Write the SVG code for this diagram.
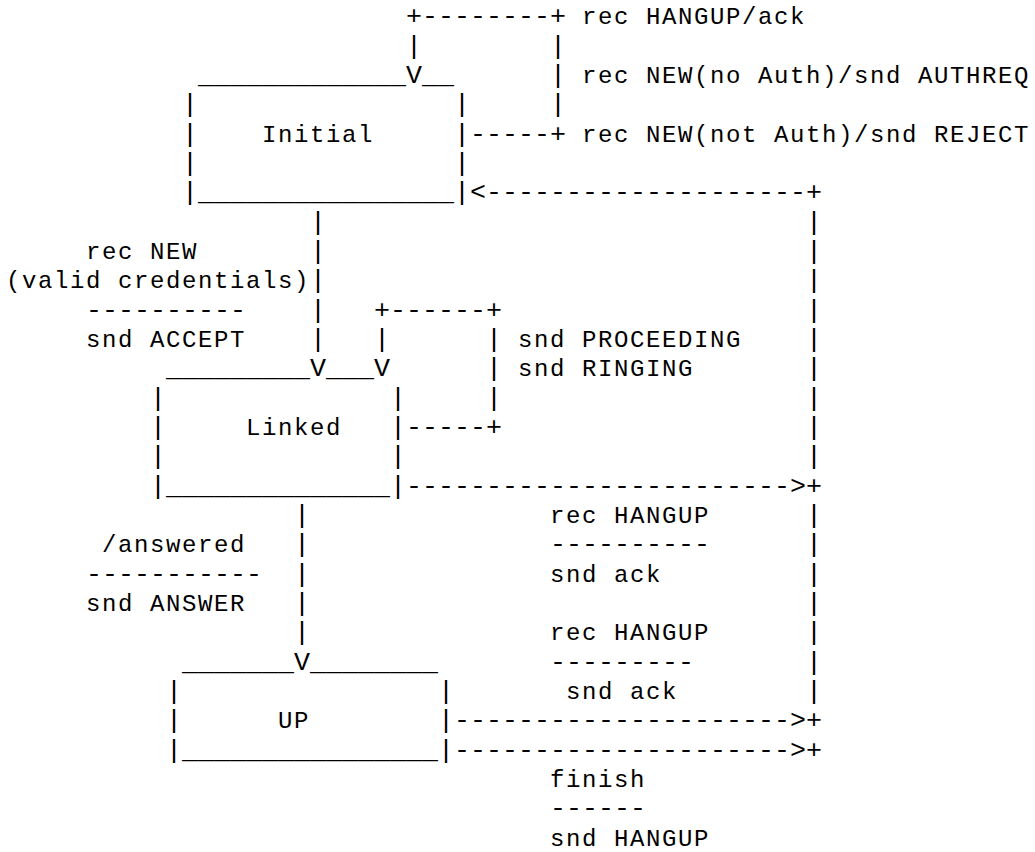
<svg xmlns="http://www.w3.org/2000/svg" width="1035" height="852" viewBox="0 0 1035 852">
  <style>
    /* character grid: 16px per column, 29.33px per row */
    .t { font-family: "Liberation Mono", "Courier New", monospace; font-size: 26.667px; fill: #000; }
    .w { font-family: "Liberation Mono", "Courier New", monospace; font-size: 24px; letter-spacing: 1.6px; fill: #000; }
  </style>
  <rect width="1035" height="852" fill="#fff"/>

  <!-- states -->
  <g id="node-initial">
    <text class="t" x="198" y="83.1">_____________</text>
    <text class="t" x="422" y="83.1">__</text>
    <text class="t" x="182 182 182" y="112.4 141.7 171.1">|||</text>
    <text class="t" x="454 454 454" y="112.4 141.7 171.1">|||</text>
    <text class="w" x="262" y="141.7">Initial</text>
    <text class="t" x="182" y="200.4">|________________|</text>
  </g>

  <g id="node-linked">
    <text class="t" x="166" y="376.4">_________</text>
    <text class="t" x="326" y="376.4">___</text>
    <text class="t" x="150 150 150" y="405.7 435 464.4">|||</text>
    <text class="t" x="390 390 390" y="405.7 435 464.4">|||</text>
    <text class="w" x="246" y="435">Linked</text>
    <text class="t" x="150" y="493.7">|______________|</text>
  </g>

  <g id="node-up">
    <text class="t" x="182" y="669.7">_______</text>
    <text class="t" x="310" y="669.7">________</text>
    <text class="t" x="166 166" y="699 728.3">||</text>
    <text class="t" x="438 438" y="699 728.3">||</text>
    <text class="w" x="278" y="728.3">UP</text>
    <text class="t" x="166" y="757.7">|________________|</text>
  </g>

  <!-- transitions -->
  <g id="connectors">
    <!-- Initial self-loop -->
    <text class="t" x="406" y="24.4">+--------+</text>
    <text class="t" x="406" y="53.7">|</text>
    <text class="t" x="550 550 550" y="53.7 83.1 112.4">|||</text>
    <text class="t" x="406" y="83.1">V</text>
    <text class="t" x="470" y="141.7">-----+</text>
    <text class="w" x="582" y="24.4">rec HANGUP/ack</text>
    <text class="w" x="582" y="83.1">rec NEW(no Auth)/snd AUTHREQ</text>
    <text class="w" x="582" y="141.7">rec NEW(not Auth)/snd REJECT</text>

    <!-- Initial to Linked -->
    <text class="t" x="310 310 310 310 310" y="229.7 259 288.4 317.7 347">|||||</text>
    <text class="t" x="310" y="376.4">V</text>
    <text class="w" x="86" y="259">rec NEW</text>
    <text class="w" x="6" y="288.4">(valid credentials)</text>
    <text class="t" x="86" y="317.7">----------</text>
    <text class="w" x="86" y="347">snd ACCEPT</text>

    <!-- Linked self-loop -->
    <text class="t" x="374" y="317.7">+------+</text>
    <text class="t" x="374" y="347">|</text>
    <text class="t" x="486 486 486" y="347 376.4 405.7">|||</text>
    <text class="t" x="374" y="376.4">V</text>
    <text class="t" x="406" y="435">-----+</text>
    <text class="w" x="518" y="347">snd PROCEEDING</text>
    <text class="w" x="518" y="376.4">snd RINGING</text>

    <!-- Linked to UP -->
    <text class="t" x="294 294 294 294 294" y="523 552.3 581.7 611 640.3">|||||</text>
    <text class="t" x="294" y="669.7">V</text>
    <text class="w" x="102" y="552.3">/answered</text>
    <text class="t" x="86" y="581.7">-----------</text>
    <text class="w" x="86" y="611">snd ANSWER</text>

    <!-- back to Initial -->
    <text class="t" x="470" y="200.4">&lt;--------------------+</text>
    <text class="t" x="806 806 806 806 806 806 806 806 806" y="229.7 259 288.4 317.7 347 376.4 405.7 435 464.4">|||||||||</text>
    <text class="t" x="406" y="493.7">------------------------&gt;+</text>
    <text class="t" x="806 806 806 806 806 806 806" y="523 552.3 581.7 611 640.3 669.7 699">|||||||</text>
    <text class="t" x="454" y="728.3">---------------------&gt;+</text>
    <text class="t" x="454" y="757.7">---------------------&gt;+</text>
    <text class="w" x="550" y="523">rec HANGUP</text>
    <text class="t" x="550" y="552.3">----------</text>
    <text class="w" x="550" y="581.7">snd ack</text>
    <text class="w" x="550" y="640.3">rec HANGUP</text>
    <text class="t" x="550" y="669.7">---------</text>
    <text class="w" x="566" y="699">snd ack</text>
    <text class="w" x="550" y="787">finish</text>
    <text class="t" x="550" y="816.3">------</text>
    <text class="w" x="550" y="845.6">snd HANGUP</text>
  </g>
</svg>
